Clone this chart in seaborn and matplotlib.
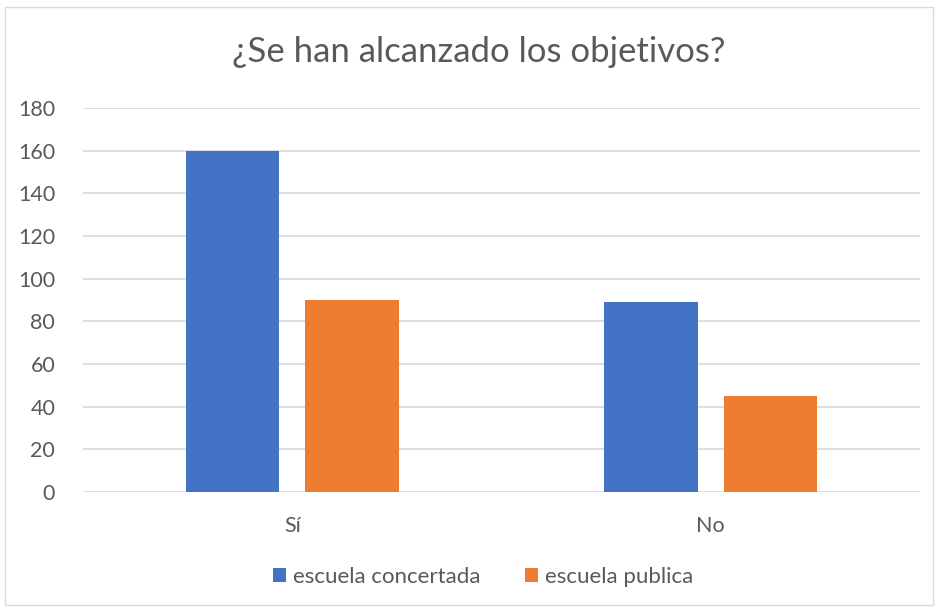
import matplotlib
matplotlib.use('Agg')
import matplotlib.pyplot as plt
import pandas as pd
import seaborn as sns
from matplotlib.patches import Rectangle

# data
categorias = ['Sí', 'No']
concertada = [160, 89]
publica = [90, 45]
series = ['escuela concertada', 'escuela publica']
colores = ['#4472C4', '#ED7D31']
yticks = [0, 20, 40, 60, 80, 100, 120, 140, 160, 180]

df = pd.DataFrame({
    'respuesta': categorias * 2,
    'valor': concertada + publica,
    'escuela': [series[0]] * len(categorias) + [series[1]] * len(categorias),
})

sns.set_style('white')
plt.rcParams['font.family'] = ['Lato', 'DejaVu Sans']
gris = '#595959'

fig = plt.figure(figsize=(9.38, 6.09), dpi=100)
ax = fig.add_axes([83 / 938, 1 - 492 / 609, 837 / 938, 384 / 609])

sns.barplot(data=df, x='respuesta', y='valor', hue='escuela', palette=colores,
            width=0.571, gap=0.218, ax=ax, saturation=1, legend=True, linewidth=0)

ax.set_ylim(0, 180)
ax.set_yticks(yticks)
ax.set_xlabel('')
ax.set_ylabel('')
ax.grid(axis='y', color='#d9d9d9', linewidth=1.2)
ax.set_axisbelow(True)
for s in ax.spines.values():
    s.set_visible(False)
ax.tick_params(axis='both', length=0, labelsize=15.5, colors=gris)
ax.tick_params(axis='y', pad=20)
ax.tick_params(axis='x', pad=17)

h, l = ax.get_legend_handles_labels()
ax.get_legend().remove()
fig.legend(h, l, loc='center', bbox_to_anchor=(483 / 938, 1 - 577 / 609), ncol=2,
           frameon=False, fontsize=16, handlelength=0.6, handleheight=0.6,
           handletextpad=0.3, columnspacing=2.0, labelcolor=gris)

fig.text(479 / 938, 1 - 52 / 609, '¿Se han alcanzado los objetivos?', ha='center', va='center',
         fontsize=25, color=gris)

fig.patches.append(Rectangle((5 / 938, 4 / 609), 928 / 938, 598 / 609, transform=fig.transFigure,
                             fill=False, edgecolor='#d9d9d9', linewidth=1))

fig.savefig('out.png', dpi=100)
